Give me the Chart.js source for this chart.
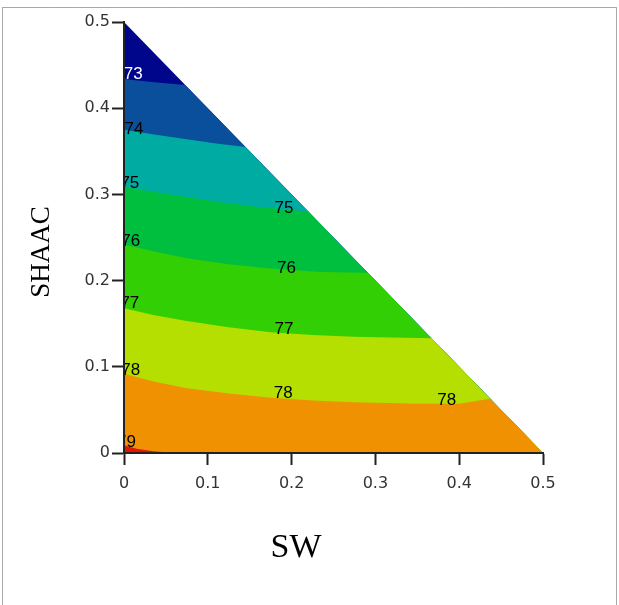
<!DOCTYPE html>
<html><head><meta charset="utf-8">
<script src="https://cdn.jsdelivr.net/npm/chart.js@4.4.1/dist/chart.umd.min.js"></script>
<style>
html,body{margin:0;padding:0;background:#fff;overflow:hidden}
#box{position:relative;width:619px;height:605px}
</style></head><body>
<div id="box"><canvas id="cnt"></canvas></div>
<script>
/* ===== 資料：等值線 (SW, SHAAC) ===== */
const triSW=[0,0.5,0],  triSH=[0.5,0,0];
const sw73=[0,0.036,0.073], sh73=[0.434,0.430,0.427];
const sw74=[0,0.04,0.075,0.11,0.145], sh74=[0.375,0.369,0.364,0.359,0.355];
const sw75=[0,0.035,0.075,0.115,0.155,0.19,0.220], sh75=[0.309,0.303,0.297,0.291,0.286,0.283,0.280];
const sw76=[0,0.035,0.075,0.125,0.175,0.235,0.291], sh76=[0.242,0.234,0.226,0.219,0.214,0.210,0.209];
const sw77=[0,0.035,0.075,0.125,0.175,0.225,0.274,0.320,0.367], sh77=[0.168,0.160,0.153,0.146,0.140,0.137,0.135,0.134,0.133];
const sw78=[0,0.035,0.075,0.125,0.175,0.225,0.274,0.350,0.400,0.437], sh78=[0.092,0.083,0.075,0.069,0.064,0.061,0.059,0.057,0.057,0.063];
const sw79=[0,0.015,0.035,0.06], sh79=[0.009,0.005,0.002,0];

/* 等值線標籤 */
const labTxt=['73','74','75','76','77','78','79','75','76','77','78','78'];
const labSW =[0.011,0.012,0.007,0.008,0.007,0.008,0.003,0.191,0.194,0.191,0.190,0.385];
const labSH =[0.439,0.375,0.313,0.246,0.174,0.096,0.012,0.284,0.214,0.143,0.069,0.061];

/* ---------- 樣式 ---------- */
const bandCol=['#00068c','#0a4f9c','#00aba2','#00bf3e','#31cf03','#b5df00','#ef9100','#e21500'];
const AXIS='#222';

/* ---------- 多邊形 ---------- */
const pts=(xs,ys)=>xs.map((x,i)=>({x,y:ys[i]}));
const below=(xs,ys)=>pts(xs,ys).concat([{x:0.5,y:0},{x:0,y:0}]);
const polys=[pts(triSW,triSH),below(sw73,sh73),below(sw74,sh74),below(sw75,sh75),
  below(sw76,sh76),below(sw77,sh77),below(sw78,sh78),below(sw79,sh79)];

const datasets=polys.map((d,i)=>({data:d,fill:'shape',backgroundColor:bandCol[i],
  borderWidth:0,pointRadius:0,tension:0,order:20-i}));

/* ---------- plugins ---------- */
const frame={id:'frame',beforeDraw(c){
  const {ctx}=c; ctx.save(); ctx.strokeStyle='#555'; ctx.lineWidth=1; ctx.setLineDash([1,1]);
  ctx.strokeRect(2.5,7.5,614,700); ctx.restore();}};

const isoLab={id:'isoLab',afterDatasetsDraw(c){
  const {ctx,chartArea:a,scales:{x,y}}=c;
  ctx.save(); ctx.beginPath(); ctx.rect(a.left,a.top,a.right-a.left,a.bottom-a.top); ctx.clip();
  ctx.font='17px "Liberation Sans", sans-serif'; ctx.textAlign='center'; ctx.textBaseline='middle';
  labTxt.forEach((t,i)=>{ctx.fillStyle=i===0?'#fff':'#000';
    ctx.fillText(t,x.getPixelForValue(labSW[i]),y.getPixelForValue(labSH[i]));});
  ctx.restore();}};

const axTitle={id:'axTitle',afterDraw(c){
  const {ctx}=c; ctx.save(); ctx.fillStyle='#000'; ctx.textAlign='center'; ctx.textBaseline='middle';
  ctx.font='34px "Liberation Serif", serif'; ctx.fillText('SW',296,548);
  ctx.font='27px "Liberation Serif", serif';
  ctx.translate(42,252); ctx.rotate(-Math.PI/2); ctx.fillText('SHAAC',0,0);
  ctx.restore();}};

const tickFmt=v=>String(+v.toFixed(1));
const axis=(w,pad)=>({type:'linear',min:0,max:0.5,
  grid:{drawOnChartArea:false,drawTicks:true,tickLength:12,tickWidth:2,tickColor:AXIS,z:1},
  border:{display:true,color:AXIS,width:2,z:1},
  ticks:{stepSize:0.1,callback:tickFmt,color:'#333',padding:pad,
    font:{family:'"DejaVu Sans", sans-serif',size:16}},
  afterFit:w});

new Chart(document.getElementById('cnt'),{
  type:'line',
  data:{datasets},
  options:{
    responsive:true,maintainAspectRatio:false,animation:false,
    layout:{padding:{top:22,right:76,left:0,bottom:0}},
    plugins:{legend:{display:false},tooltip:{enabled:false}},
    scales:{
      x:axis(s=>{s.height=152;},9),
      y:axis(s=>{s.width=124;},2)
    }
  },
  plugins:[frame,isoLab,axTitle]
});
</script>
</body></html>
